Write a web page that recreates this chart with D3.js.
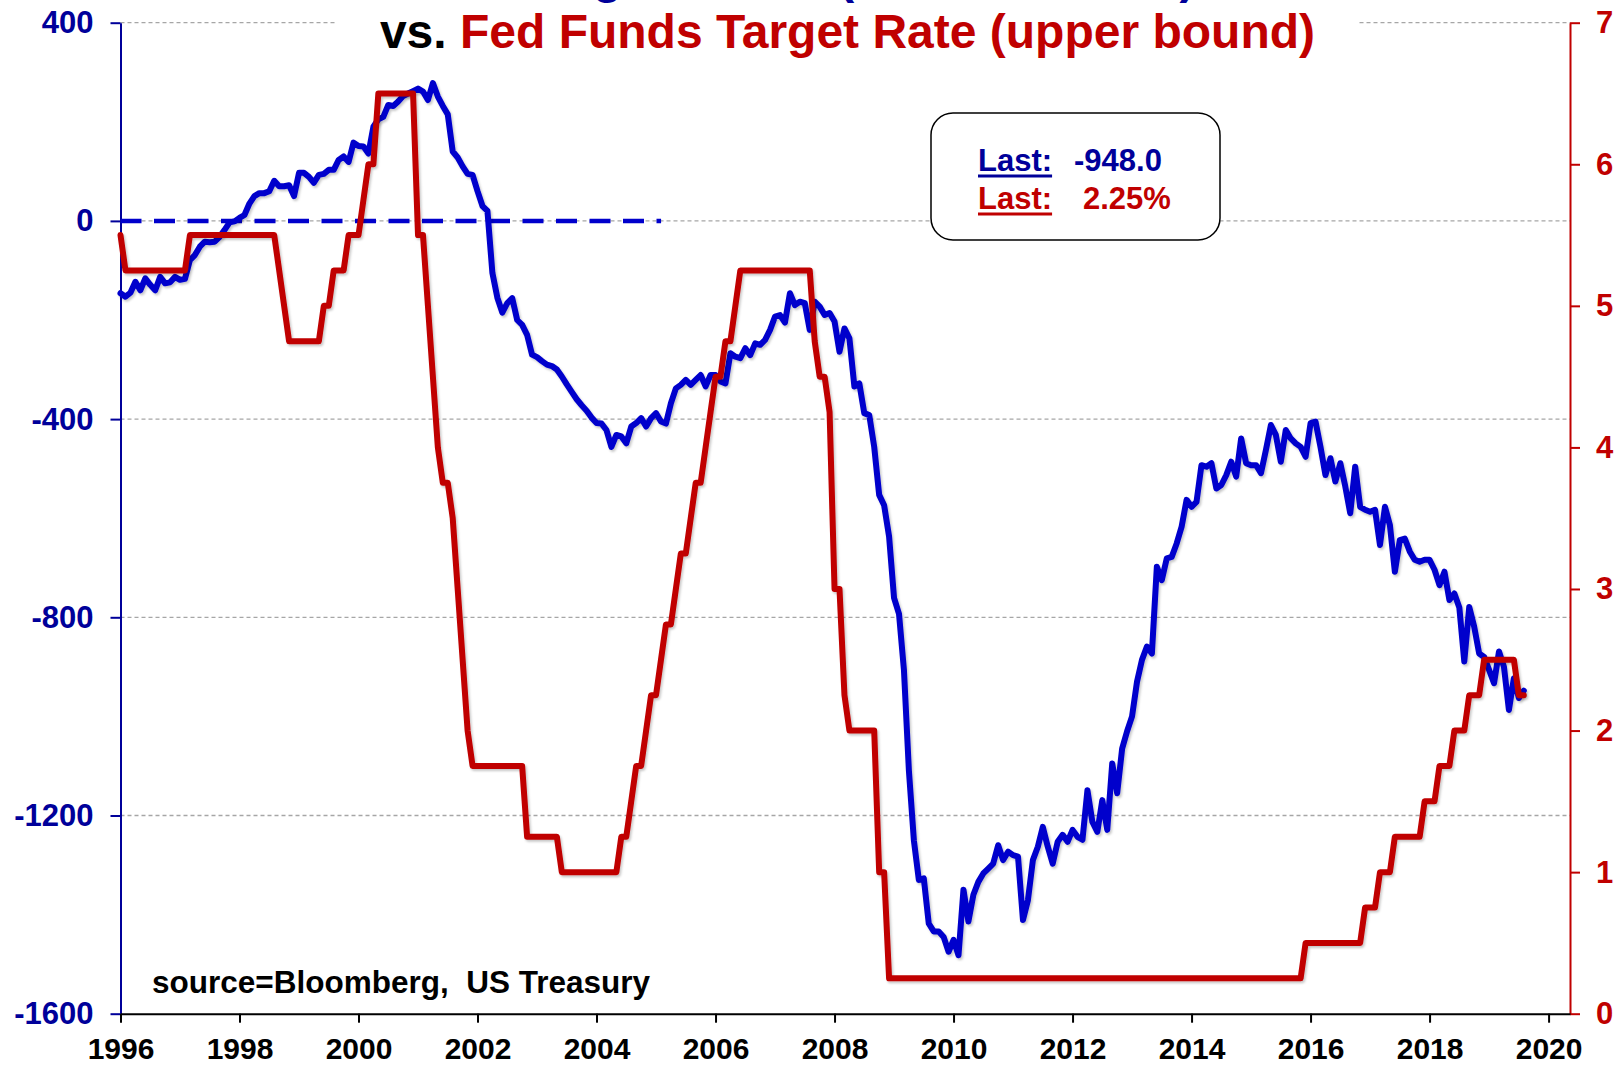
<!DOCTYPE html>
<html>
<head>
<meta charset="utf-8">
<script src="https://cdn.jsdelivr.net/npm/d3@7"></script>
<style>
  html, body { margin: 0; padding: 0; background: #ffffff; }
  svg { display: block; font-family: "Liberation Sans", Arial, Helvetica, sans-serif; font-weight: bold; }
</style>
</head>
<body>
<svg id="chart" width="1617" height="1067"></svg>
<script>
// Monthly observations, first one is January 1996
const startYear = 1996;

// U.S. budget deficit, rolling 12-month sum ($ billions)
const deficit = [
  -146, -153, -145, -123, -140, -116, -129, -140, -113, -126, -124, -113,   // 1996
  -119, -117,  -79,  -69,  -52,  -42,  -43,  -42,  -32,  -18,   -3,   -1,   // 1997
     6,   12,   35,   50,   56,   56,   60,   81,   70,   70,   72,   50,   // 1998
    97,   97,   89,   77,   93,   95,  103,  103,  123,  130,  119,  158,   // 1999
   151,  150,  136,  190,  205,  210,  234,  232,  241,  252,  257,  262,   // 2000
   267,  261,  244,  278,  251,  232,  215,  140,  128,  110,   95,   93,   // 2001
    60,   30,   20, -105, -155, -185, -166, -156, -200, -210, -230, -270,   // 2002
  -275, -283, -290, -293, -300, -314, -330, -345, -360, -372, -383, -397,   // 2003
  -408, -409, -422, -456, -432, -435, -449, -415, -408, -398, -415, -398,   // 2004
  -388, -405, -409, -368, -338, -331, -321, -331, -321, -311, -334, -311,   // 2005
  -311, -324, -328, -267, -274, -277, -257, -271, -247, -250, -240, -220,   // 2006
  -193, -190, -205, -146, -170, -163, -166, -220, -163, -173, -190, -186,   // 2007
  -203, -264, -217, -237, -334, -328, -388, -392, -456, -553, -574, -637,   // 2008
  -761, -793, -907, -1110, -1250, -1330, -1327, -1418, -1434, -1434, -1445, -1475, // 2009
  -1451, -1482, -1350, -1414, -1360, -1334, -1317, -1307, -1297, -1260, -1290, -1273, // 2010
  -1280, -1283, -1411, -1371, -1290, -1263, -1223, -1263, -1297, -1253, -1239, -1253, // 2011
  -1229, -1243, -1249, -1149, -1213, -1233, -1169, -1229, -1095, -1155, -1065, -1030, // 2012
  -1000, -930, -886, -859, -873, -698, -725, -681, -678, -651, -617, -563,  // 2013
  -577, -567, -493, -496, -489, -540, -533, -513, -486, -516, -439, -489,   // 2014
  -493, -493, -509, -462, -412, -432, -486, -422, -439, -449, -456, -476,   // 2015
  -408, -405, -456, -513, -479, -526, -489, -536, -590, -496, -577, -583,   // 2016
  -587, -583, -654, -577, -614, -708, -644, -641, -667, -684, -688, -684,   // 2017
  -684, -704, -735, -708, -765, -752, -780, -889, -779, -819, -873, -880,   // 2018
  -906, -933, -869, -900, -987, -923, -963, -948                            // 2019
];

// Fed funds target rate, upper bound (%)
const fedFunds = [
  5.5, 5.25, 5.25, 5.25, 5.25, 5.25, 5.25, 5.25, 5.25, 5.25, 5.25, 5.25,   // 1996
  5.25, 5.25, 5.5, 5.5, 5.5, 5.5, 5.5, 5.5, 5.5, 5.5, 5.5, 5.5,            // 1997
  5.5, 5.5, 5.5, 5.5, 5.5, 5.5, 5.5, 5.5, 5.25, 5.0, 4.75, 4.75,           // 1998
  4.75, 4.75, 4.75, 4.75, 4.75, 5.0, 5.0, 5.25, 5.25, 5.25, 5.5, 5.5,      // 1999
  5.5, 5.75, 6.0, 6.0, 6.5, 6.5, 6.5, 6.5, 6.5, 6.5, 6.5, 6.5,             // 2000
  5.5, 5.5, 5.0, 4.5, 4.0, 3.75, 3.75, 3.5, 3.0, 2.5, 2.0, 1.75,           // 2001
  1.75, 1.75, 1.75, 1.75, 1.75, 1.75, 1.75, 1.75, 1.75, 1.75, 1.25, 1.25,  // 2002
  1.25, 1.25, 1.25, 1.25, 1.25, 1.0, 1.0, 1.0, 1.0, 1.0, 1.0, 1.0,         // 2003
  1.0, 1.0, 1.0, 1.0, 1.0, 1.25, 1.25, 1.5, 1.75, 1.75, 2.0, 2.25,         // 2004
  2.25, 2.5, 2.75, 2.75, 3.0, 3.25, 3.25, 3.5, 3.75, 3.75, 4.0, 4.25,      // 2005
  4.5, 4.5, 4.75, 4.75, 5.0, 5.25, 5.25, 5.25, 5.25, 5.25, 5.25, 5.25,     // 2006
  5.25, 5.25, 5.25, 5.25, 5.25, 5.25, 5.25, 5.25, 4.75, 4.5, 4.5, 4.25,    // 2007
  3.0, 3.0, 2.25, 2.0, 2.0, 2.0, 2.0, 2.0, 2.0, 1.0, 1.0, 0.25,            // 2008
  0.25, 0.25, 0.25, 0.25, 0.25, 0.25, 0.25, 0.25, 0.25, 0.25, 0.25, 0.25,  // 2009
  0.25, 0.25, 0.25, 0.25, 0.25, 0.25, 0.25, 0.25, 0.25, 0.25, 0.25, 0.25,  // 2010
  0.25, 0.25, 0.25, 0.25, 0.25, 0.25, 0.25, 0.25, 0.25, 0.25, 0.25, 0.25,  // 2011
  0.25, 0.25, 0.25, 0.25, 0.25, 0.25, 0.25, 0.25, 0.25, 0.25, 0.25, 0.25,  // 2012
  0.25, 0.25, 0.25, 0.25, 0.25, 0.25, 0.25, 0.25, 0.25, 0.25, 0.25, 0.25,  // 2013
  0.25, 0.25, 0.25, 0.25, 0.25, 0.25, 0.25, 0.25, 0.25, 0.25, 0.25, 0.25,  // 2014
  0.25, 0.25, 0.25, 0.25, 0.25, 0.25, 0.25, 0.25, 0.25, 0.25, 0.25, 0.5,   // 2015
  0.5, 0.5, 0.5, 0.5, 0.5, 0.5, 0.5, 0.5, 0.5, 0.5, 0.5, 0.75,             // 2016
  0.75, 0.75, 1.0, 1.0, 1.0, 1.25, 1.25, 1.25, 1.25, 1.25, 1.25, 1.5,      // 2017
  1.5, 1.5, 1.75, 1.75, 1.75, 2.0, 2.0, 2.0, 2.25, 2.25, 2.25, 2.5,        // 2018
  2.5, 2.5, 2.5, 2.5, 2.5, 2.5, 2.25, 2.25                                 // 2019
];

// Axis ticks
const yearTicks = [1996, 1998, 2000, 2002, 2004, 2006, 2008, 2010, 2012, 2014, 2016, 2018, 2020];
const deficitTicks = [400, 0, -400, -800, -1200, -1600];
const deficitGrid = [400, 0, -400, -800, -1200];
const rateTicks = [0, 1, 2, 3, 4, 5, 6, 7];

// Dashed zero reference, drawn over the early years
const zeroRefSpan = [1996, 2005.085];

// Text
const titleTop = "Budget Deficit (12 month sum)";
const titleVs = "vs. ";
const titleRate = "Fed Funds Target Rate (upper bound)";
const sourceNote = "source=Bloomberg,  US Treasury";

// Colours
const BLUE = "#0000CC";
const NAVY = "#00009A";
const RED = "#C00000";

// plain hyphen for negatives, no thousands separator on the axis
const locale = d3.formatLocale({ decimal: ".", thousands: ",", grouping: [3], currency: ["$", ""], minus: "-" });
const fmtInt = locale.format("d");
const fmt1 = locale.format(".1f");
const fmt2 = locale.format(".2f");

const svg = d3.select("#chart");
const W = 1617, H = 1067;
const plot = { left: 120.5, right: 1570, top: 22.7, bottom: 1013.7 };

const x = d3.scaleLinear().domain([1996, 2020.36]).range([plot.left, plot.right]);
const yL = d3.scaleLinear().domain([-1600, 400]).range([plot.bottom, plot.top]);
const yR = d3.scaleLinear().domain([0, 7]).range([plot.bottom, plot.top]);
const monthX = i => x(startYear + i / 12);

svg.append("rect").attr("width", W).attr("height", H).attr("fill", "#ffffff");

// soft shadow under the series lines
const defs = svg.append("defs");
const shadow = defs.append("filter").attr("id", "lineShadow")
  .attr("x", "-5%").attr("y", "-5%").attr("width", "110%").attr("height", "110%");
shadow.append("feDropShadow").attr("dx", 1.5).attr("dy", 2).attr("stdDeviation", 1.2)
  .attr("flood-color", "#000").attr("flood-opacity", 0.22);

// horizontal gridlines
svg.append("g").selectAll("line").data(deficitGrid).join("line")
  .attr("x1", plot.left).attr("x2", plot.right)
  .attr("y1", d => yL(d)).attr("y2", d => yL(d))
  .attr("stroke", "#A6A6A6").attr("stroke-width", 1.3).attr("stroke-dasharray", "4,3");

function styleTicks(g, color, size) {
  g.selectAll(".tick text").attr("fill", color).attr("font-size", size)
    .attr("font-family", null).attr("font-weight", "bold");
}

// left axis: deficit
const axL = svg.append("g").attr("transform", `translate(${plot.left},0)`)
  .call(d3.axisLeft(yL).tickValues(deficitTicks).tickFormat(fmtInt)
    .tickSize(10).tickSizeOuter(0).tickPadding(17));
axL.select(".domain").attr("stroke", NAVY).attr("stroke-width", 2);
axL.selectAll(".tick line").attr("stroke", NAVY).attr("stroke-width", 2);
styleTicks(axL, NAVY, 31);

// right axis: fed funds
const axR = svg.append("g").attr("transform", `translate(${plot.right},0)`)
  .call(d3.axisRight(yR).tickValues(rateTicks).tickFormat(fmtInt)
    .tickSize(10).tickSizeOuter(0).tickPadding(16));
axR.select(".domain").attr("stroke", RED).attr("stroke-width", 2);
axR.selectAll(".tick line").attr("stroke", RED).attr("stroke-width", 2);
styleTicks(axR, RED, 31);

// bottom axis: years
const axB = svg.append("g").attr("transform", `translate(0,${plot.bottom})`)
  .call(d3.axisBottom(x).tickValues(yearTicks).tickFormat(fmtInt)
    .tickSize(9).tickSizeOuter(0).tickPadding(15));
axB.select(".domain").attr("stroke", "#000").attr("stroke-width", 2);
axB.selectAll(".tick line").attr("stroke", "#000").attr("stroke-width", 2);
styleTicks(axB, "#000", 30);

// dashed zero reference
svg.append("line")
  .attr("x1", x(zeroRefSpan[0])).attr("x2", x(zeroRefSpan[1]))
  .attr("y1", yL(0)).attr("y2", yL(0))
  .attr("stroke", BLUE).attr("stroke-width", 4.5).attr("stroke-dasharray", "21,12.5");

// deficit line
svg.append("path").datum(deficit)
  .attr("d", d3.line().x((d, i) => monthX(i)).y(d => yL(d)))
  .attr("fill", "none").attr("stroke", BLUE).attr("stroke-width", 6)
  .attr("stroke-linejoin", "round").attr("stroke-linecap", "round")
  .attr("filter", "url(#lineShadow)");

// fed funds line
svg.append("path").datum(fedFunds)
  .attr("d", d3.line().x((d, i) => monthX(i)).y(d => yR(d)))
  .attr("fill", "none").attr("stroke", RED).attr("stroke-width", 6)
  .attr("stroke-linejoin", "round").attr("stroke-linecap", "round")
  .attr("filter", "url(#lineShadow)");

// title block with white backing
svg.append("rect").attr("x", 337).attr("y", 0).attr("width", 1022).attr("height", 60).attr("fill", "#ffffff");
svg.append("text").attr("x", 847.5).attr("y", -7).attr("text-anchor", "middle")
  .attr("font-size", 48).attr("fill", NAVY).text(titleTop);
const t2 = svg.append("text").attr("x", 847.5).attr("y", 48).attr("text-anchor", "middle").attr("font-size", 48);
t2.append("tspan").attr("fill", "#000").text(titleVs);
t2.append("tspan").attr("fill", RED).text(titleRate);

// "Last" box
const lastDeficit = deficit[deficit.length - 1];
const lastRate = fedFunds[fedFunds.length - 1];
svg.append("rect").attr("x", 931).attr("y", 113).attr("width", 289).attr("height", 127).attr("rx", 22)
  .attr("fill", "#ffffff").attr("stroke", "#000").attr("stroke-width", 1.5);

function lastRow(y, color, valueText, valueX) {
  const lbl = svg.append("text").attr("x", 978).attr("y", y).attr("font-size", 31).attr("fill", color).text("Last:");
  const w = lbl.node().getComputedTextLength();
  svg.append("line").attr("x1", 978).attr("x2", 978 + w).attr("y1", y + 5).attr("y2", y + 5)
    .attr("stroke", color).attr("stroke-width", 3);
  svg.append("text").attr("x", valueX).attr("y", y).attr("font-size", 31).attr("fill", color).text(valueText);
}
lastRow(171, NAVY, fmt1(lastDeficit), 1074);
lastRow(209, RED, fmt2(lastRate) + "%", 1083);

// source note
svg.append("text").attr("x", 152).attr("y", 993).attr("font-size", 31.5).attr("fill", "#000")
  .style("white-space", "pre").text(sourceNote);
</script>
</body>
</html>
